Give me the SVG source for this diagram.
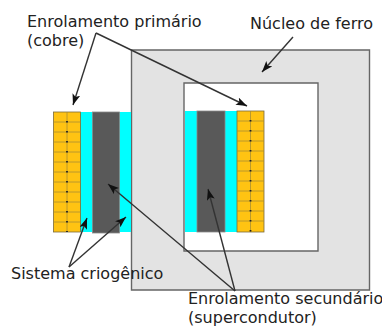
<svg xmlns="http://www.w3.org/2000/svg" width="382" height="327" viewBox="0 0 382 327">
<style>
text{font-family:"DejaVu Sans",sans-serif;font-size:16px;fill:#222}
.cu{fill:#ffc312;stroke:#7a6a3a;stroke-width:.8}
.cy{fill:#00ffff}
.sc{fill:#595959;stroke:#8a8a8a;stroke-width:.8}
.grid{stroke:#a88e35;stroke-width:.8;fill:none}
.dot{stroke:#222;stroke-width:1.800;stroke-dasharray:1.600 8.400;fill:none}
.ar{stroke:#333;stroke-width:1.400;fill:none;marker-end:url(#a)}
</style>
<defs>
<marker id="a" markerUnits="userSpaceOnUse" markerWidth="12" markerHeight="10" refX="11" refY="4" orient="auto"><path d="M0 0L11 4L0 8L2.500 4Z" fill="#111"/></marker>
</defs>
<g id="nucleo">
<path d="M131.500 50H369.500V290H131.500ZM184 83V251H318V83Z" fill="#e3e3e3" fill-rule="evenodd" stroke="#666" stroke-width="1.400"/>
</g>
<g id="bobina-esquerda">
<rect class="cy" x="80" y="112" width="51" height="120"/>
<rect class="sc" x="92.500" y="112" width="27" height="121"/>
<rect class="cu" x="53.500" y="112" width="27" height="120"/>
<path class="grid" d="M67 112V232M53.500 122H80.500M53.500 132H80.500M53.500 142H80.500M53.500 152H80.500M53.500 162H80.500M53.500 172H80.500M53.500 182H80.500M53.500 192H80.500M53.500 202H80.500M53.500 212H80.500M53.500 222H80.500"/>
<path class="dot" d="M67 121V232"/>
</g>
<g id="bobina-direita">
<rect class="cy" x="185" y="111" width="52" height="121"/>
<rect class="sc" x="197" y="111" width="28" height="121"/>
<rect class="cu" x="237" y="111" width="27" height="121"/>
<path class="grid" d="M250.500 111V232M237 121H264M237 131H264M237 141H264M237 151H264M237 161H264M237 171H264M237 181H264M237 191H264M237 201H264M237 211H264M237 221H264"/>
<path class="dot" d="M250.500 120V232"/>
</g>
<g id="conectores">
<path class="ar" d="M96 33L73 105"/>
<path class="ar" d="M96 33L247 106"/>
<path class="ar" d="M293 37L262 72"/>
<path class="ar" d="M69 267L87 218"/>
<path class="ar" d="M69 267L126 217"/>
<path class="ar" d="M235 291L108 184"/>
<path class="ar" d="M235 291L208 189"/>
</g>
<g id="rotulos">
<text x="27" y="27">Enrolamento primário</text>
<text x="27" y="46">(cobre)</text>
<text x="250" y="29">Núcleo de ferro</text>
<text x="11" y="279">Sistema criogênico</text>
<text x="188" y="304">Enrolamento secundário</text>
<text x="188" y="323">(supercondutor)</text>
</g>
</svg>
